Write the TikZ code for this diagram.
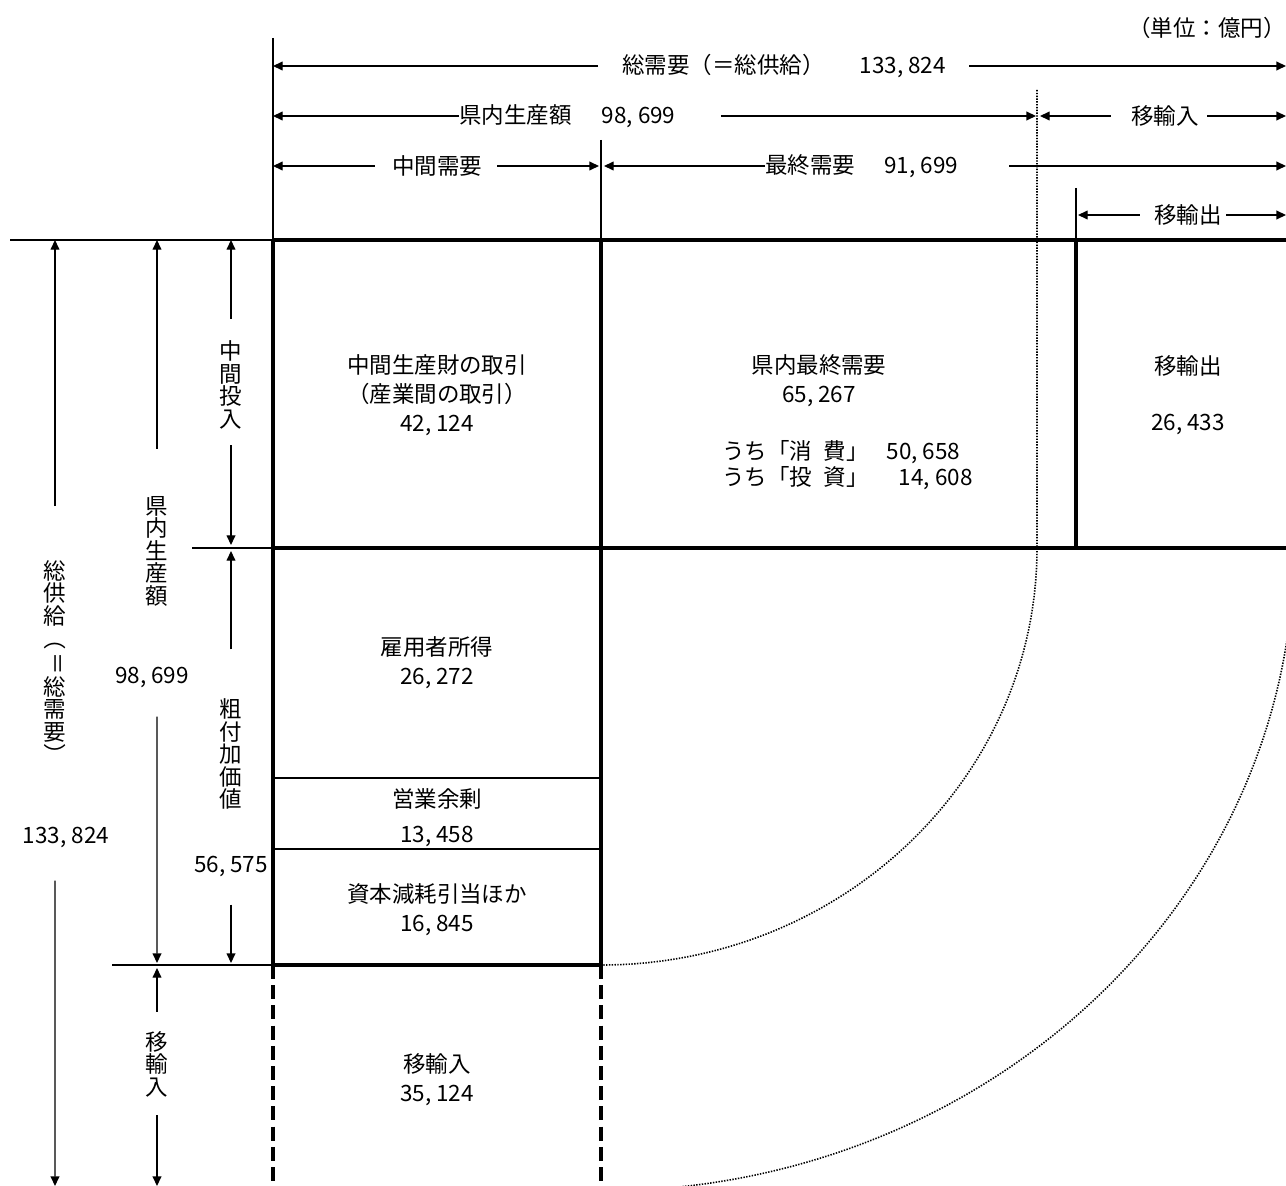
\documentclass[tikz,border=0pt]{standalone}
\usepackage{fontspec}
\setmainfont{Noto Sans CJK JP}
\usetikzlibrary{arrows.meta}
\newcommand\vrot[1]{\rotatebox[origin=c]{-90}{#1}}

\begin{document}
\begin{tikzpicture}[x=0.02cm,y=-0.02cm,
  every node/.style={inner sep=0pt,align=center,font=\fontsize{12.8}{16.4}\selectfont},
  frame/.style={line width=2.4pt},
  mid/.style={line width=1.5pt},
  thin/.style={line width=1.1pt},
  dim/.style={line width=0.75pt,-{Triangle[length=5.5pt,width=5pt]}},
  cut/.style={line width=2.3pt,dash pattern=on 8pt off 3.5pt},
  dotline/.style={line width=0.9pt,dash pattern=on 0.8pt off 0.8pt},
  vtext/.style={font=\fontsize{12.8}{12.8}\selectfont}]
\useasboundingbox (0,0) rectangle (1286,1186);
% corners of the table
\coordinate (nw) at (273,240);
\coordinate (nm) at (601,240);
\coordinate (nx) at (1076,240);
\coordinate (ne) at (1286,240);
\coordinate (ml) at (273,548);
\coordinate (mx) at (1076,548);
\coordinate (mr) at (1286,548);
\coordinate (bl) at (273,965);
\coordinate (bm) at (601,965);
\coordinate (sl) at (273,1186);
\coordinate (sm) at (601,1186);
\coordinate (dt) at (1037,90);
\coordinate (db) at (1037,548);
% table
\draw[thin] (273,38) -- (nw) (601,140) -- (nm)
      (10,240) -- (nw) (192,548) -- (ml) (112,965) -- (bl);
\draw[mid] (1076,188) -- (nx);
\draw[frame] (nw) -- (ne) (ml) -- (mr) (nw) -- (bl) -- (bm) -- (nm) (nx) -- (mx);
\draw[mid] (273,778) -- (601,778) (273,849) -- (601,849);
\draw[cut] (bl) -- (sl) (bm) -- (sm);
% dotted arcs
\scope
\clip (0,0) rectangle (1286,1186);
\draw[dotline] (dt) -- (db) .. controls (1037,778) and (842,965) .. (bm);
\draw[dotline] (1294,548) .. controls (1294,903) and (984,1191) .. (601,1191);
\endscope
% top scale
\node[anchor=east] (unit) at (1286,28) {（単位：億円）};
\node[anchor=west] (tot) at (622,66) {総需要（＝総供給）\hspace{0.7cm}133, 824};
\draw[dim] ([xshift=-0.48cm]tot.west) -- (tot.west -| nw);
\draw[dim] ([xshift=0.46cm]tot.east) -- (tot.east -| ne);
\node[anchor=west] (gdp) at (459,116) {県内生産額\hspace{0.6cm}98, 699};
\draw[dim] (gdp.west) -- (gdp.west -| nw);
\draw[dim,shorten >=0.02cm] ([xshift=0.9cm]gdp.east) -- (gdp.east -| dt);
\node (imp) at (1165,116) {移輸入};
\draw[dim,shorten >=0.06cm] ([xshift=-0.4cm]imp.west) -- (imp.west -| dt);
\draw[dim] ([xshift=0.16cm]imp.east) -- (imp.east -| ne);
\node (inter) at (437,166) {中間需要};
\draw[dim] ([xshift=-0.34cm]inter.west) -- (inter.west -| nw);
\draw[dim,shorten >=0.04cm] ([xshift=0.3cm]inter.east) -- (inter.east -| nm);
\node[anchor=west] (fin) at (765,166) {最終需要\hspace{0.58cm}91, 699};
\draw[dim,shorten >=0.06cm] (fin.west) -- (fin.west -| nm);
\draw[dim] ([xshift=1.02cm]fin.east) -- (fin.east -| ne);
\node (exp) at (1188,215) {移輸出};
\draw[dim,shorten >=0.04cm] ([xshift=-0.28cm]exp.west) -- (exp.west -| nx);
\draw[dim] ([xshift=0.08cm]exp.east) -- (exp.east -| ne);
% left scale
\node[vtext] (tsup) at (55,663) {総\\供\\給\\\vrot{（}\\\vrot{＝}\\総\\需\\要\\\vrot{）}};
\draw[dim] ([yshift=1.08cm]tsup.north) -- (tsup.north |- nw);
\node (tval) at (66,837) {133, 824};
\draw[dim] ([xshift=-0.22cm,yshift=-0.66cm]tval.south) -- (tsup.south |- sl);
\node[vtext] (gvt) at (157,551) {県\\内\\生\\産\\額};
\draw[dim] ([yshift=0.94cm]gvt.north) -- (gvt.north |- nw);
\node (gval) at (152,677) {98, 699};
\draw[dim,shorten >=0.04cm] ([xshift=0.1cm,yshift=-0.58cm]gval.south) -- (gvt.south |- bl);
\node[vtext] (ivt) at (231,385) {中\\間\\投\\入};
\draw[dim] ([yshift=0.44cm]ivt.north) -- (ivt.north |- nw);
\draw[dim,shorten >=0.06cm] ([yshift=-0.32cm]ivt.south) -- (ivt.south |- ml);
\node[vtext] (vvt) at (231,754) {粗\\付\\加\\価\\値};
\draw[dim,shorten >=0.06cm] ([yshift=0.98cm]vvt.north) -- (vvt.north |- ml);
\node (vval) at (231,866) {56, 575};
\draw[dim,shorten >=0.04cm] ([yshift=-0.56cm]vval.south) -- (vvt.south |- bl);
\node[vtext] (mvt) at (157,1064) {移\\輸\\入};
\draw[dim,shorten >=0.06cm] ([yshift=0.38cm]mvt.north) -- (mvt.north |- bl);
\draw[dim] ([yshift=-0.36cm]mvt.south) -- (mvt.south |- sl);
% cells
\node (trade) at (437,395) {中間生産財の取引\\（産業間の取引）\\42, 124};
\node (fd) at (819,381) {県内最終需要\\65, 267};
\node[anchor=west,align=left] (fdsub) at (722,465)
  {うち「消\hspace{0.5em}費」\hspace{0.8em}50, 658\\[-2pt]うち「投\hspace{0.5em}資」\hspace{1.35em}14, 608};
\node (ex) at (1188,395) {移輸出\\[15.5pt]26, 433};
\node (wage) at (437,663) {雇用者所得\\26, 272};
\node (surp) at (437,818) {営業余剰\\[3.5pt]13, 458};
\node (depr) at (437,910) {資本減耗引当ほか\\16, 845};
\node (impv) at (437,1080) {移輸入\\35, 124};
\end{tikzpicture}
\end{document}
